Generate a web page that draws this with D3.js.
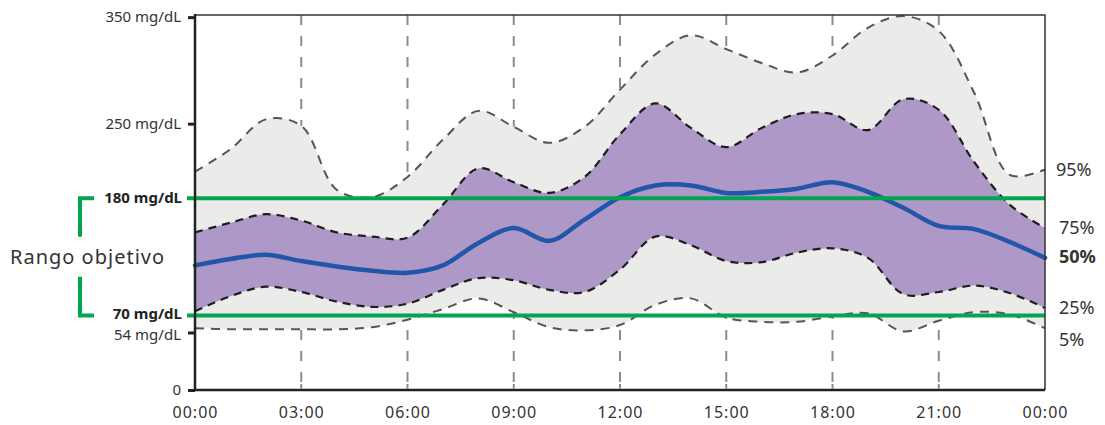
<!DOCTYPE html>
<html lang="es">
<head>
<meta charset="utf-8">
<title>Perfil de glucosa ambulatorio</title>
<style>
  body { margin: 0; background: #fff; font-family: "Noto Sans", Arial, sans-serif; }
  svg text { fill: #333; }
</style>
</head>
<body>
<div id="chart"></div>
<script src="https://cdn.jsdelivr.net/npm/d3@7"></script>
<script>
// hours of the day, 0..24
var hours = [0,1,2,3,4,5,6,7,8,9,10,11,12,13,14,15,16,17,18,19,20,21,22,23,24];
var p95 = [205,226,254,248,188,181,200,235,262,247,232,247,282,315,333,320,307,298,314,340,351,337,279,202,207];
var p75 = [148,157,165,159,148,144,143,174,208,195,185,200,240,269,246,228,246,259,259,244,273,263,214,174,152];
var p50 = [117,123,127,121,116,112,110,117,138,152,140,160,181,192,192,185,186,189,195,186,171,154,151,139,124];
var p25 = [74,88,97,92,83,78,81,94,105,103,94,92,113,144,136,121,120,129,133,124,90,92,98,91,77];
var p5  = [58,57,57,57,57,59,66,76,86,73,59,56,61,80,86,68,64,64,69,72,55,65,73,71,58];

var timeTicks = [0,3,6,9,12,15,18,21,24];
var timeLabels = ["00:00","03:00","06:00","09:00","12:00","15:00","18:00","21:00","00:00"];
var yTicks = [0,54,250,350];
var yLabels = ["0","54 mg/dL","250 mg/dL","350 mg/dL"];
var targets = [70,180];
var targetLabels = ["70 mg/dL","180 mg/dL"];
var pctLabels = ["95%","75%","50%","25%","5%"];

var w = 1105, h = 425;
var padL = 195, padR = 1045, padT = 15, padB = 390;

var svg = d3.select("#chart").append("svg")
  .attr("width", w)
  .attr("height", h);

var x = d3.scaleLinear().domain([0,24]).range([padL,padR]);
var y = d3.scaleLinear().domain([0,352]).range([padB,padT]);

var data = hours.map(function(hr, i) {
  return {h: hr, p95: p95[i], p75: p75[i], p50: p50[i], p25: p25[i], p5: p5[i]};
});

var curve = d3.curveCatmullRom.alpha(0.5);

// dashed hour gridlines
svg.append("g").selectAll("line")
  .data(timeTicks.slice(1, -1))
  .enter().append("line")
  .attr("x1", function(d) { return x(d); })
  .attr("x2", function(d) { return x(d); })
  .attr("y1", padT)
  .attr("y2", padB)
  .attr("stroke", "#8c8c8c")
  .attr("stroke-width", 2)
  .attr("stroke-dasharray", "10,11");

// bands
svg.append("path").datum(data)
  .attr("fill", "#ebebea")
  .attr("d", d3.area().curve(curve)
    .x(function(d) { return x(d.h); })
    .y0(function(d) { return y(d.p5); })
    .y1(function(d) { return y(d.p95); }));

svg.append("path").datum(data)
  .attr("fill", "#ae98c8")
  .attr("d", d3.area().curve(curve)
    .x(function(d) { return x(d.h); })
    .y0(function(d) { return y(d.p25); })
    .y1(function(d) { return y(d.p75); }));

function pline(key) {
  return d3.line().curve(curve)
    .x(function(d) { return x(d.h); })
    .y(function(d) { return y(d[key]); });
}

["p95","p5"].forEach(function(k) {
  svg.append("path").datum(data)
    .attr("fill", "none")
    .attr("stroke", "#555")
    .attr("stroke-width", 2)
    .attr("stroke-dasharray", "9,7")
    .attr("d", pline(k));
});
["p75","p25"].forEach(function(k) {
  svg.append("path").datum(data)
    .attr("fill", "none")
    .attr("stroke", "#1e1e1e")
    .attr("stroke-width", 2.2)
    .attr("stroke-dasharray", "8,6")
    .attr("d", pline(k));
});

// median
svg.append("path").datum(data)
  .attr("fill", "none")
  .attr("stroke", "#2256a6")
  .attr("stroke-width", 4.5)
  .attr("stroke-linecap", "round")
  .attr("d", pline("p50"));

// target range lines
svg.append("g").selectAll("line")
  .data(targets)
  .enter().append("line")
  .attr("x1", 187)
  .attr("x2", padR)
  .attr("y1", function(d) { return y(d); })
  .attr("y2", function(d) { return y(d); })
  .attr("stroke", "#00a651")
  .attr("stroke-width", 4);

// frame
svg.append("path")
  .attr("d", "M" + padL + "," + padT + "H" + padR + "V" + padB)
  .attr("fill", "none")
  .attr("stroke", "#333")
  .attr("stroke-width", 1.5);

// y axis
var yAxis = svg.append("g")
  .attr("transform", "translate(" + padL + ",0)")
  .call(d3.axisLeft(y).tickValues(yTicks).tickSize(7)
    .tickFormat(function(d, i) { return yLabels[i]; }));
yAxis.select(".domain").attr("stroke", "#222").attr("stroke-width", 2.5)
  .attr("d", "M0," + (padT - 1) + "V" + (padB + 1));
yAxis.selectAll(".tick line").attr("stroke", "#222").attr("stroke-width", 3);
yAxis.selectAll(".tick text")
  .attr("x", -14)
  .attr("dy", function(d) { return d === 54 ? "0.45em" : "0.32em"; })
  .style("font-family", "'Noto Sans', Arial, sans-serif")
  .style("font-size", "15px")
  .style("fill", "#333");

// x axis
var xAxis = svg.append("g")
  .attr("transform", "translate(0," + padB + ")")
  .call(d3.axisBottom(x).tickValues(timeTicks).tickSize(0).tickPadding(17)
    .tickFormat(function(d, i) { return timeLabels[i]; }));
xAxis.select(".domain").attr("stroke", "#222").attr("stroke-width", 2.5)
  .attr("d", "M" + padL + ",0H" + padR);
xAxis.selectAll(".tick text")
  .style("font-family", "'Noto Sans', Arial, sans-serif")
  .style("font-size", "16px")
  .style("fill", "#333")
  .style("letter-spacing", "1px");
svg.append("g").selectAll("line")
  .data(timeTicks.slice(1, -1))
  .enter().append("line")
  .attr("x1", function(d) { return x(d); })
  .attr("x2", function(d) { return x(d); })
  .attr("y1", padB - 6)
  .attr("y2", padB - 1)
  .attr("stroke", "#8c8c8c")
  .attr("stroke-width", 2);

// target labels and bracket
svg.append("g").selectAll("text")
  .data(targets)
  .enter().append("text")
  .attr("x", 182)
  .attr("y", function(d) { return y(d); })
  .attr("dy", function(d) { return d === 70 ? "0.22em" : "0.35em"; })
  .attr("text-anchor", "end")
  .style("font-size", "15px")
  .style("font-weight", "bold")
  .style("fill", "#222")
  .text(function(d, i) { return targetLabels[i]; });

var bx = 80, yHi = y(targets[1]), yLo = y(targets[0]), ym = (yHi + yLo) / 2;
svg.append("path")
  .attr("d", "M94," + yHi + "H" + bx + "V" + (ym - 20) +
             "M" + bx + "," + (ym + 20) + "V" + yLo + "H94")
  .attr("fill", "none")
  .attr("stroke", "#00a651")
  .attr("stroke-width", 4);

svg.append("text")
  .attr("x", 10)
  .attr("y", ym)
  .attr("dy", "0.35em")
  .style("font-size", "20px")
  .style("letter-spacing", "1px")
  .style("fill", "#333")
  .text("Rango objetivo");

// percentile labels on the right
var labelY = [170, 228, 257, 308, 340];
svg.append("g").selectAll("text")
  .data(pctLabels)
  .enter().append("text")
  .attr("x", function(d) { return d === "95%" ? 1056 : 1059; })
  .attr("y", function(d, i) { return labelY[i]; })
  .attr("dy", "0.35em")
  .style("font-size", "18px")
  .style("font-weight", function(d) { return d === "50%" ? "bold" : "normal"; })
  .style("fill", "#333")
  .text(function(d) { return d; });
</script>
</body>
</html>
